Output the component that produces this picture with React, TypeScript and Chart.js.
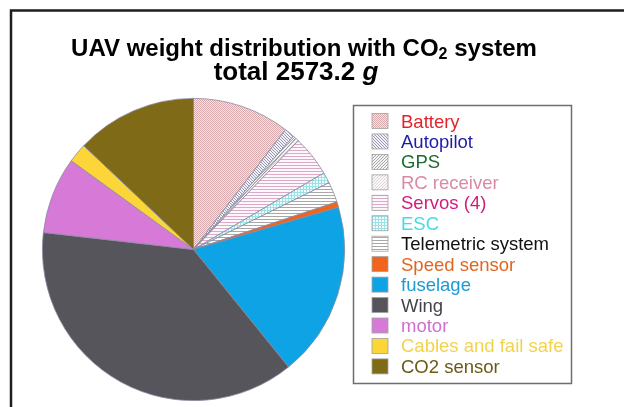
import { useEffect, useRef } from "react";
import { Chart, registerables } from "chart.js";

Chart.register(...registerables);

// Component masses of the UAV (grams)
const parts = [
  "Battery",
  "Autopilot",
  "GPS",
  "RC receiver",
  "Servos (4)",
  "ESC",
  "Telemetric system",
  "Speed sensor",
  "fuselage",
  "Wing",
  "motor",
  "Cables and fail safe",
  "CO2 sensor",
];
const grams = [268, 28, 9, 9, 112, 30, 56, 15, 481, 968, 211, 53, 333];
const titleLine1 = ["UAV weight distribution with CO", "2", " system"];
const totalLabel = "total 2573.2";
const unitLabel = "g";

// Legend text colours
const labelColors = [
  "#e3232c",
  "#1c1ca8",
  "#1e6b30",
  "#d98aa3",
  "#d21c7c",
  "#46dbe4",
  "#111111",
  "#e0661f",
  "#1c9bd2",
  "#45444a",
  "#d06fd0",
  "#f2d34e",
  "#6b5a16",
];

// Slice fills: either a flat colour or a small hatch/dot pattern
type Fill =
  | { kind: "solid"; color: string }
  | { kind: "checker"; a: string; b: string }
  | { kind: "diag"; dir: 1 | -1; line: string; bg: string; gap: number }
  | { kind: "hlines"; line: string; bg: string; gap: number }
  | { kind: "grid"; line: string; bg: string; gap: number };

const fills: Fill[] = [
  { kind: "checker", a: "#d8a9ac", b: "#f4e6e7" },
  { kind: "diag", dir: -1, line: "#9a9ab8", bg: "#f0f0f5", gap: 3 },
  { kind: "diag", dir: 1, line: "#a8aca8", bg: "#f2f2f2", gap: 3 },
  { kind: "diag", dir: 1, line: "#ddd2d8", bg: "#fbf8fa", gap: 3 },
  { kind: "hlines", line: "#dcaac8", bg: "#fdf7fb", gap: 3 },
  { kind: "grid", line: "#98e2e8", bg: "#f4fdfe", gap: 3 },
  { kind: "hlines", line: "#a8a8a8", bg: "#ffffff", gap: 3 },
  { kind: "solid", color: "#f0641e" },
  { kind: "solid", color: "#0ea3e4" },
  { kind: "solid", color: "#56555b" },
  { kind: "solid", color: "#d77ad7" },
  { kind: "solid", color: "#fcd539" },
  { kind: "solid", color: "#7f6b17" },
];

function makeFill(f: Fill): string | CanvasPattern {
  if (f.kind === "solid") return f.color;
  const size = f.kind === "checker" ? 2 : f.gap;
  const tile = document.createElement("canvas");
  tile.width = size;
  tile.height = size;
  const t = tile.getContext("2d")!;
  if (f.kind === "checker") {
    t.fillStyle = f.b;
    t.fillRect(0, 0, 2, 2);
    t.fillStyle = f.a;
    t.fillRect(0, 0, 1, 1);
    t.fillRect(1, 1, 1, 1);
  } else {
    t.fillStyle = f.bg;
    t.fillRect(0, 0, size, size);
    t.fillStyle = f.line;
    if (f.kind === "diag") {
      for (let i = 0; i < size; i++) {
        const x = f.dir === 1 ? size - 1 - i : i;
        t.fillRect(x, i, 1, 1);
      }
    } else if (f.kind === "hlines") {
      t.fillRect(0, 0, size, 1);
    } else {
      t.fillRect(0, 0, size, 1);
      t.fillRect(0, 0, 1, size);
    }
  }
  const ctx = document.createElement("canvas").getContext("2d")!;
  return ctx.createPattern(tile, "repeat")!;
}

const framePlugin = {
  id: "frame",
  beforeDraw(chart: Chart) {
    const ctx = chart.ctx;
    ctx.save();
    ctx.fillStyle = "#ffffff";
    ctx.fillRect(0, 0, chart.width, chart.height);
    ctx.strokeStyle = "#1e1e1e";
    ctx.lineWidth = 2.5;
    ctx.beginPath();
    ctx.moveTo(11, chart.height);
    ctx.lineTo(11, 10.5);
    ctx.lineTo(chart.width, 10.5);
    ctx.stroke();
    ctx.restore();
  },
};

const FONT = "'Liberation Sans', Arial, sans-serif";

const titlePlugin = {
  id: "mixedTitle",
  afterDraw(chart: Chart) {
    const ctx = chart.ctx;
    ctx.save();
    ctx.fillStyle = "#000000";
    ctx.textBaseline = "alphabetic";
    ctx.textAlign = "left";
    const big = `bold 24px ${FONT}`;
    const sub = `bold 16px ${FONT}`;
    const fonts = [big, sub, big];
    const widths = titleLine1.map((s, i) => {
      ctx.font = fonts[i];
      return ctx.measureText(s).width;
    });
    let x = 304 - widths.reduce((a, b) => a + b, 0) / 2;
    titleLine1.forEach((s, i) => {
      ctx.font = fonts[i];
      ctx.fillText(s, x, i === 1 ? 59 : 56);
      x += widths[i];
    });
    const second = `bold 26px ${FONT}`;
    const secondItalic = `italic bold 26px ${FONT}`;
    const lead = totalLabel + " ";
    ctx.font = second;
    const w1 = ctx.measureText(lead).width;
    ctx.font = secondItalic;
    const w2 = ctx.measureText(unitLabel).width;
    const x2 = 296 - (w1 + w2) / 2;
    ctx.font = second;
    ctx.fillText(lead, x2, 80);
    ctx.font = secondItalic;
    ctx.fillText(unitLabel, x2 + w1, 80);
    ctx.restore();
  },
};

const legendPlugin = {
  id: "boxLegend",
  afterDraw(chart: Chart) {
    const ctx = chart.ctx;
    const ds = chart.data.datasets[0] as any;
    const bg = ds.backgroundColor as (string | CanvasPattern)[];
    ctx.save();
    ctx.strokeStyle = "#6e6e6e";
    ctx.lineWidth = 1.5;
    ctx.strokeRect(353.5, 105.5, 218, 278);
    ctx.font = `18.5px ${FONT}`;
    ctx.textBaseline = "alphabetic";
    (chart.data.labels as string[]).forEach((label, i) => {
      const base = 127.5 + i * 20.45;
      ctx.fillStyle = bg[i];
      ctx.fillRect(372, base - 14, 16, 15);
      ctx.strokeStyle = "#a0a0a0";
      ctx.lineWidth = 0.8;
      ctx.strokeRect(372, base - 14, 16, 15);
      ctx.fillStyle = labelColors[i];
      ctx.fillText(label, 401, base);
    });
    ctx.restore();
  },
};

export default function App() {
  const ref = useRef<HTMLCanvasElement>(null);

  useEffect(() => {
    const canvas = ref.current!;
    const chart = new Chart(canvas, {
      type: "pie",
      data: {
        labels: parts,
        datasets: [
          {
            data: grams,
            backgroundColor: fills.map(makeFill),
            borderColor: "#8a8aa0",
            borderWidth: 0.8,
          },
        ],
      },
      options: {
        responsive: false,
        animation: false,
        devicePixelRatio: 1,
        layout: { padding: { left: 42, right: 279, top: 98, bottom: 6 } },
        plugins: {
          legend: { display: false },
          title: { display: false },
          tooltip: { enabled: false },
        },
      },
      plugins: [framePlugin, titlePlugin, legendPlugin],
    });
    return () => chart.destroy();
  }, []);

  return (
    <div style={{ position: "absolute", left: 0, top: 0, width: 624, height: 407 }}>
      <canvas ref={ref} width={624} height={407} style={{ display: "block" }} />
    </div>
  );
}
